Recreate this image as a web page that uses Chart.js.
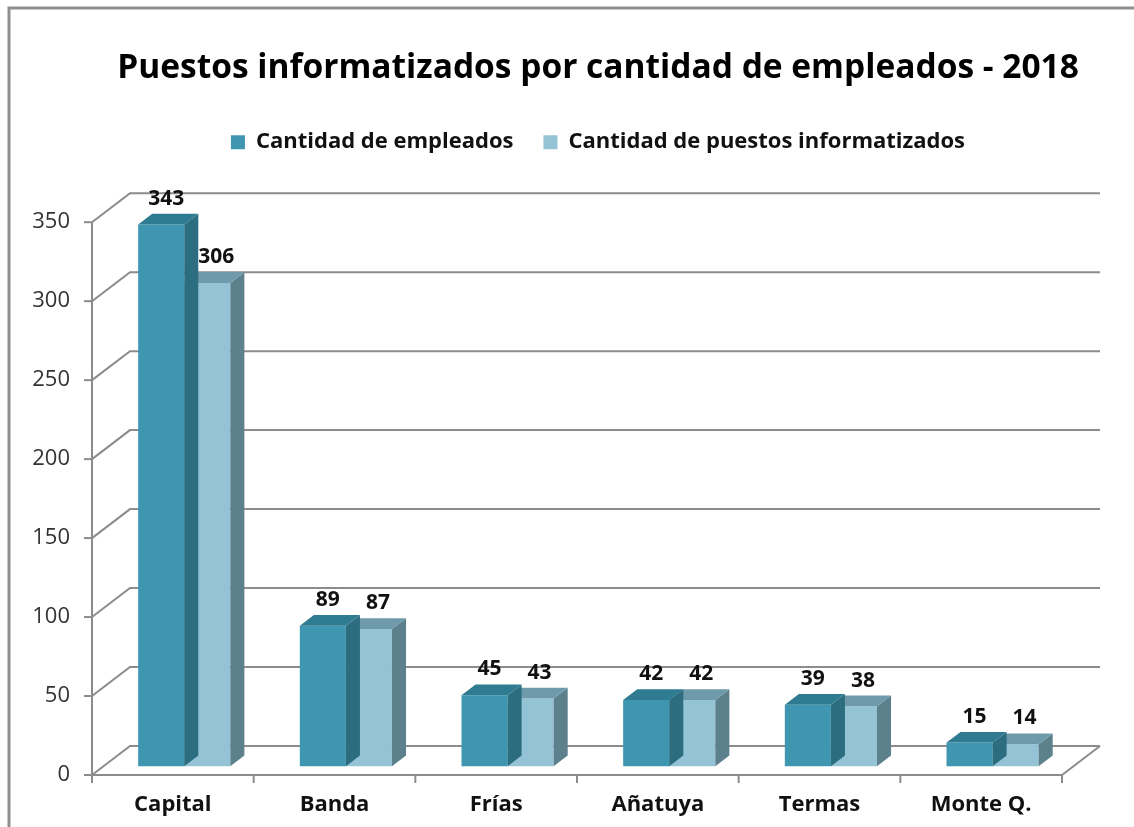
<!DOCTYPE html>
<html>
<head>
<meta charset="utf-8">
<script src="https://cdn.jsdelivr.net/npm/chart.js@4.4.0/dist/chart.umd.min.js"></script>
<style>
  body { margin: 0; background: #fff; }
</style>
</head>
<body>
<canvas id="puestosChart" width="1134" height="827"></canvas>
<script>
const categories = ['Capital', 'Banda', 'Frías', 'Añatuya', 'Termas', 'Monte Q.'];
const empleados = [343, 89, 45, 42, 39, 15];
const puestos = [306, 87, 43, 42, 38, 14];
const yTicks = [0, 50, 100, 150, 200, 250, 300, 350];

const FONT = '"Open Sans", Lato, sans-serif';
const DEPTH_X = 38, DEPTH_Y = -29;   // depth of the 3d walls
const BAR_OFF = 0.3, BAR_DEPTH = 0.37; // bars sit a bit inside the depth
const lineGray = '#8c8c8c';
const faces = [
    { front: '#3f96b1', side: '#2c6e80', top: '#2f7b91' },
    { front: '#93c3d5', side: '#5d808d', top: '#6e9aab' }
];

// empty layout boxes: room for the 3d top above the plot and the depth on the right
function emptyBox(position, size) {
    return {
        id: 'gap-' + position,
        beforeInit(chart) {
            const horiz = position === 'top' || position === 'bottom';
            Chart.layouts.addBox(chart, {
                position, weight: 500, fullSize: horiz, options: {},
                top: 0, left: 0, right: 0, bottom: 0, width: 0, height: 0,
                isHorizontal() { return horiz; },
                update(maxWidth, maxHeight) {
                    this.width = horiz ? maxWidth : size;
                    this.height = horiz ? size : maxHeight;
                },
                draw() {}
            });
        }
    };
}

const walls = {
    id: 'walls',
    beforeDraw(chart) {
        const ctx = chart.ctx;
        ctx.save();
        ctx.fillStyle = '#fff';
        ctx.fillRect(0, 0, chart.width, chart.height);
        ctx.strokeStyle = '#8f8f8f';
        ctx.lineWidth = 3;
        ctx.beginPath();
        ctx.moveTo(9, chart.height);
        ctx.lineTo(9, 8);
        ctx.lineTo(chart.width, 8);
        ctx.stroke();
        ctx.restore();
    },
    beforeDatasetsDraw(chart) {
        const ctx = chart.ctx;
        const ys = chart.scales.y;
        const { left, right } = chart.chartArea;
        const y0 = ys.getPixelForValue(0);
        ctx.save();
        ctx.strokeStyle = lineGray;
        ctx.lineWidth = 2;
        yTicks.forEach(v => {
            const y = ys.getPixelForValue(v);
            ctx.beginPath();
            ctx.moveTo(left, y);
            ctx.lineTo(left + DEPTH_X, y + DEPTH_Y);
            ctx.lineTo(right + DEPTH_X, y + DEPTH_Y);
            ctx.stroke();
            ctx.beginPath();
            ctx.moveTo(left - 8, y);
            ctx.lineTo(left, y);
            ctx.stroke();
        });
        // floor front edge and right side
        ctx.beginPath();
        ctx.moveTo(left, y0);
        ctx.lineTo(right, y0);
        ctx.lineTo(right + DEPTH_X, y0 + DEPTH_Y);
        ctx.stroke();
        // value axis
        ctx.beginPath();
        ctx.moveTo(left, ys.getPixelForValue(yTicks[yTicks.length - 1]));
        ctx.lineTo(left, y0);
        ctx.stroke();
        // category tick marks
        const step = (right - left) / categories.length;
        for (let i = 0; i <= categories.length; i++) {
            ctx.beginPath();
            ctx.moveTo(left + i * step, y0);
            ctx.lineTo(left + i * step, y0 + 8);
            ctx.stroke();
        }
        ctx.restore();
    },
    beforeDatasetDraw(chart) {
        chart.ctx.save();
        chart.ctx.translate(DEPTH_X * BAR_OFF, DEPTH_Y * BAR_OFF);
    },
    afterDatasetDraw(chart, args) {
        const ctx = chart.ctx;
        const f = faces[args.index];
        const dx = DEPTH_X * BAR_DEPTH, dy = DEPTH_Y * BAR_DEPTH;
        args.meta.data.forEach(bar => {
            const l = bar.x - bar.width / 2, r = bar.x + bar.width / 2;
            const t = bar.y, b = bar.base;
            ctx.fillStyle = f.side;
            ctx.beginPath();
            ctx.moveTo(r, t);
            ctx.lineTo(r + dx, t + dy);
            ctx.lineTo(r + dx, b + dy);
            ctx.lineTo(r, b);
            ctx.closePath();
            ctx.fill();
            ctx.fillStyle = f.top;
            ctx.beginPath();
            ctx.moveTo(l, t);
            ctx.lineTo(r, t);
            ctx.lineTo(r + dx, t + dy);
            ctx.lineTo(l + dx, t + dy);
            ctx.closePath();
            ctx.fill();
        });
        ctx.restore();
    },
    afterDatasetsDraw(chart) {
        const ctx = chart.ctx;
        ctx.save();
        ctx.font = 'bold 21px ' + FONT;
        ctx.fillStyle = '#111';
        ctx.textAlign = 'center';
        ctx.textBaseline = 'middle';
        chart.data.datasets.forEach((ds, i) => {
            chart.getDatasetMeta(i).data.forEach((bar, j) => {
                const x = bar.x + DEPTH_X * BAR_OFF + 5 + i * 4;
                const y = bar.y + DEPTH_Y * (BAR_OFF + BAR_DEPTH) - 15;
                ctx.fillText(ds.data[j], x, y);
            });
        });
        ctx.restore();
    }
};

new Chart(document.getElementById('puestosChart'), {
    type: 'bar',
    data: {
        labels: categories,
        datasets: [
            {
                label: 'Cantidad de empleados',
                data: empleados,
                backgroundColor: faces[0].front,
                borderWidth: 0,
                clip: false
            },
            {
                label: 'Cantidad de puestos informatizados',
                data: puestos,
                backgroundColor: faces[1].front,
                borderWidth: 0,
                clip: false
            }
        ]
    },
    options: {
        responsive: false,
        animation: false,
        // title and legend sit a bit right of the canvas centre
        layout: { padding: { left: 28, right: -34, top: 0, bottom: 0 } },
        datasets: { bar: { categoryPercentage: 0.57, barPercentage: 1 } },
        plugins: {
            title: {
                display: true,
                text: 'Puestos informatizados por cantidad de empleados - 2018',
                color: '#000',
                font: { family: FONT, size: 33.5, weight: 'bold' },
                padding: { top: 48, bottom: 13 }
            },
            legend: {
                labels: {
                    color: '#111',
                    font: { family: FONT, size: 22, weight: 'bold' },
                    boxWidth: 14,
                    boxHeight: 14,
                    padding: 30
                }
            },
            tooltip: { enabled: false }
        },
        scales: {
            x: {
                grid: { display: false, drawTicks: false },
                border: { display: false },
                ticks: { color: '#111', font: { family: FONT, size: 22, weight: 'bold' }, padding: 17 },
                afterFit(scale) { scale.height = 52; }
            },
            y: {
                min: 0,
                max: 350,
                afterBuildTicks(scale) { scale.ticks = yTicks.map(v => ({ value: v })); },
                grid: { display: false, drawTicks: false },
                border: { display: false },
                ticks: { color: '#333', font: { family: FONT, size: 22 }, padding: 22 },
                afterFit(scale) { scale.width = 64; }
            }
        }
    },
    plugins: [emptyBox('top', 59), emptyBox('right', 106), walls]
});
</script>
</body>
</html>
